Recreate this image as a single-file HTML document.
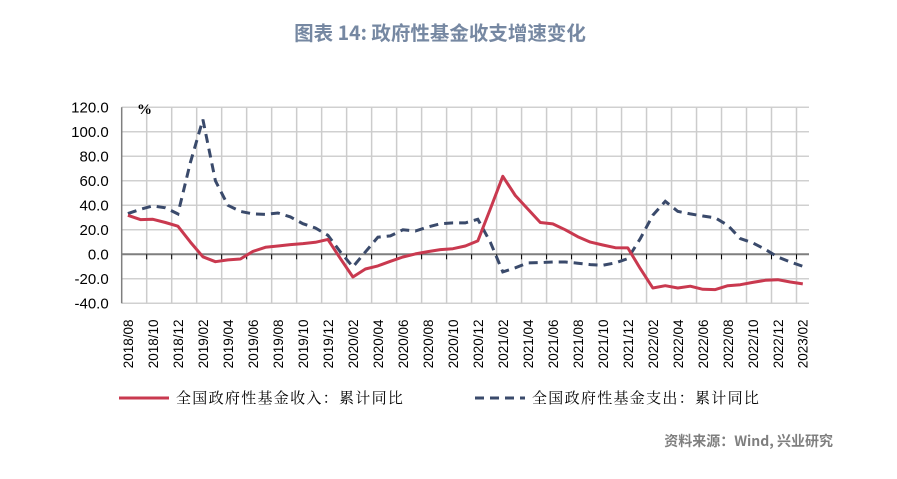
<!DOCTYPE html>
<html><head><meta charset="utf-8">
<style>
body{margin:0;background:#fff;}
svg text{font-family:"Liberation Sans","Noto Sans CJK SC",sans-serif;}
</style></head>
<body>
<svg id="chart" width="897" height="474" viewBox="0 0 897 474" xmlns="http://www.w3.org/2000/svg">
<text x="440" y="40" text-anchor="middle" font-size="19.5" font-weight="bold" fill="#7688a2" style="font-family:'Noto Sans CJK SC',sans-serif">图表 14: 政府性基金收支增速变化</text>
<g id="grid"></g>
<g id="axes"></g>
<g id="series"></g>
<text x="137" y="114" font-size="15" font-weight="bold" fill="#000" style="font-family:'Liberation Serif',serif">%</text>
<g>
<line x1="119" y1="398" x2="169" y2="398" stroke="#c9394f" stroke-width="3"/>
<text x="176" y="403" font-size="15" letter-spacing="1.3" fill="#000" style="font-family:'Noto Serif CJK SC',serif">全国政府性基金收入：累计同比</text>
<line x1="475" y1="398" x2="525" y2="398" stroke="#3a4a6b" stroke-width="3" stroke-dasharray="9,6"/>
<text x="532" y="403" font-size="15" letter-spacing="1.3" fill="#000" style="font-family:'Noto Serif CJK SC',serif">全国政府性基金支出：累计同比</text>
</g>
<text x="833" y="446" text-anchor="end" font-size="14" font-weight="bold" fill="#7f7f7f" style="font-family:'Noto Sans CJK SC',sans-serif">资料来源：Wind, 兴业研究</text>
</svg>
<script>
const categories=[];
for(let y=2018,m=8;!(y===2023&&m===3);){categories.push(y+'/'+String(m).padStart(2,'0'));m++;if(m>12){m=1;y++;}}
const yTicks=[-40,-20,0,20,40,60,80,100,120];
const income=[31.8,28.3,28.6,26,22.9,10,-2,-6,-4.6,-3.8,2.4,5.7,6.8,7.9,8.7,9.8,12.2,-3.5,-18.5,-12,-9.5,-5.7,-2.2,0.3,2.2,3.8,4.6,6.8,10.9,37,63.7,48,37,26,24.8,20,14.4,10,7.6,5.4,5.2,-11.7,-27.5,-25.6,-27.5,-26,-28.6,-28.8,-25.6,-24.8,-22.9,-21.2,-20.7,-22.6,-24.2];
const expense=[33.2,36.7,39.5,38,33,75,110,60,40,35,33,32.6,33.7,30.5,25,21.5,15.5,2,-10.3,2,14,15,20,19,22.3,25,25.6,25.6,28.6,10,-14.4,-11,-7,-6.8,-6.3,-6.3,-7.3,-8.4,-9,-7,-3.5,12.8,31.8,43.3,35,33,31.3,29.7,23.7,12.8,9.3,4,-2.2,-6.3,-9.8];
const L=121.7,R=809,T=107.3,B=303.3,yMin=-40,yMax=120;
const step=(R-L)/categories.length;
const xs=i=>L+step*(i+0.5);
const ys=v=>B-(v-yMin)/(yMax-yMin)*(B-T);
const NS='http://www.w3.org/2000/svg';
function mk(tag,attrs,parent){const e=document.createElementNS(NS,tag);for(const k in attrs)e.setAttribute(k,attrs[k]);parent.appendChild(e);return e;}
const grid=document.getElementById('grid'),axes=document.getElementById('axes'),series=document.getElementById('series');
yTicks.forEach(v=>{
 const g=mk('line',{x1:L,x2:R,y1:ys(v),y2:ys(v),stroke:v===0?'#7f7f7f':'#d0d0d0','stroke-width':v===0?2:1.5},v===0?axes:grid);
 
 
 const t=mk('text',{x:L-13,y:ys(v)+5,'text-anchor':'end','font-size':'15',fill:'#000'},axes);
 t.textContent=v.toFixed(1);
 
 
});
for(let i=2;i<=categories.length;i+=2){
 const x=L+step*i;
 const g=mk('line',{x1:x,x2:x,y1:T,y2:B,stroke:'#cccccc','stroke-width':1.5},grid);
 
 
 const tk=mk('line',{x1:x,x2:x,y1:ys(0),y2:ys(0)+5,stroke:'#000','stroke-width':1},axes);
 
 
}
const ax=mk('line',{x1:L,x2:L,y1:T,y2:B,stroke:'#7f7f7f','stroke-width':1.5},axes);


categories.forEach((c,i)=>{
 if(i%2)return;
 const x=xs(i)+5,y=B+65;
 const t=mk('text',{x:x,y:y,'font-size':'13.5',fill:'#000',transform:`rotate(-90 ${x} ${y})`},axes);
 t.textContent=c;
 
 
});
function path(arr){return arr.map((v,i)=>(i?'L':'M')+xs(i).toFixed(1)+','+ys(v).toFixed(1)).join(' ');}
const pe=mk('path',{d:path(expense),fill:'none',stroke:'#3a4a6b','stroke-width':3,'stroke-dasharray':'9,6'},series);


const pi=mk('path',{d:path(income),fill:'none',stroke:'#c9394f','stroke-width':3,'stroke-linejoin':'round'},series);


</script>
</body></html>
